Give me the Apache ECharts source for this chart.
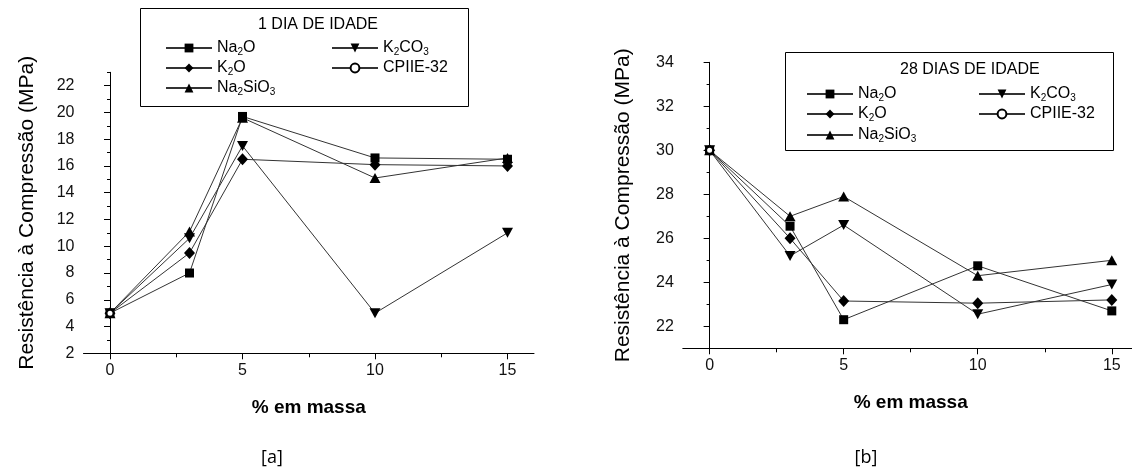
<!DOCTYPE html>
<html><head><meta charset="utf-8">
<script src="https://cdn.jsdelivr.net/npm/echarts@6/dist/echarts.min.js"></script>
<style>html,body{margin:0;padding:0;background:#fff}#c{width:1132px;height:473px}</style>
</head><body><div id="c"></div>
<script>
// ---- data ----
const massPct = [0, 3, 5, 10, 15];
const xTickValues = [0, 5, 10, 15];
const xMinorValues = [2.5, 7.5, 12.5];
const yTicksA = [2, 4, 6, 8, 10, 12, 14, 16, 18, 20, 22];
const yTicksB = [22, 24, 26, 28, 30, 32, 34];
const seriesNames = ['Na2O', 'K2CO3', 'K2O', 'CPIIE-32', 'Na2SiO3'];
const titleA = '1 DIA DE IDADE';
const titleB = '28 DIAS DE IDADE';
const yTitle = 'Resistência à Compressão (MPa)';
const xTitle = '% em massa';
// 1 dia de idade
const d1_Na2O    = [5, 8.0, 19.7, 16.6, 16.5];
const d1_K2CO3   = [5, 10.6, 17.5, 5.0, 11.0];
const d1_K2O     = [5, 9.5, 16.5, 16.1, 16.0];
const d1_Na2SiO3 = [5, 11.1, 19.6, 15.1, 16.6];
const d1_CPIIE   = [5];
// 28 dias de idade
const d28_Na2O    = [30, 26.55, 22.3, 24.75, 22.7];
const d28_K2CO3   = [30, 25.2, 26.6, 22.55, 23.9];
const d28_K2O     = [30, 26.0, 23.15, 23.05, 23.2];
const d28_Na2SiO3 = [30, 27.0, 27.9, 24.3, 25.0];
const d28_CPIIE   = [30];

// ---- styling ----
const FONT = '"Liberation Sans", Arial, sans-serif';
const symbols = {
  'Na2O': {symbol: 'rect', symbolSize: 9},
  'K2CO3': {symbol: 'path://M0,0L10,0L5,9Z', symbolSize: [11, 10]},
  'K2O': {symbol: 'diamond', symbolSize: [11, 12]},
  'Na2SiO3': {symbol: 'triangle', symbolSize: [11, 10]},
  'CPIIE-32': {symbol: 'emptyCircle', symbolSize: 7}
};
const rich = {s: {fontSize: 10, fontFamily: FONT, color: '#000', verticalAlign: 'bottom'}};
const fmtMap = {
  'Na2O': 'Na{s|2}O', 'K2CO3': 'K{s|2}CO{s|3}', 'K2O': 'K{s|2}O',
  'Na2SiO3': 'Na{s|2}SiO{s|3}', 'CPIIE-32': 'CPIIE-32'
};
function mkSeries(name, vals, ax) {
  const s = symbols[name];
  const empty = name === 'CPIIE-32';
  return {
    type: 'line', name: name, xAxisIndex: ax, yAxisIndex: ax,
    data: vals.map((v, i) => [massPct[i], v]),
    symbol: s.symbol, symbolSize: s.symbolSize, showAllSymbol: true,
    lineStyle: {color: '#333', width: 1},
    itemStyle: empty ? {color: '#000', borderWidth: 1.4} : {color: '#000'},
    z: empty ? 5 : 3,
    animation: false, emphasis: {disabled: true}
  };
}
function mkLegend(name, left, cy) {
  return {
    data: [name], left: left, top: cy - 9, padding: 0, itemWidth: 46, itemHeight: 11,
    selectedMode: false, formatter: n => fmtMap[n],
    textStyle: {fontFamily: FONT, fontSize: 16, color: '#000', lineHeight: 18, rich: rich}
  };
}
function xMain(grid) {
  return {type: 'value', gridIndex: grid, min: -1, max: 16, position: 'bottom',
    axisLine: {show: true, lineStyle: {color: '#000', width: 1}},
    axisTick: {show: true, length: 6, customValues: xTickValues, lineStyle: {color: '#000'}},
    axisLabel: {customValues: xTickValues, margin: 9, fontFamily: FONT, fontSize: 16, color: '#111'},
    splitLine: {show: false},
    name: xTitle, nameLocation: 'middle', nameGap: 45,
    nameTextStyle: {fontFamily: FONT, fontSize: 19, fontWeight: 'bold', color: '#000'}};
}
function xMinor(grid) {
  return {type: 'value', gridIndex: grid, min: -1, max: 16, position: 'bottom',
    axisLine: {show: false}, axisLabel: {show: false}, splitLine: {show: false},
    axisTick: {show: true, length: 4, customValues: xMinorValues, lineStyle: {color: '#000'}}};
}
function yMain(grid, min, max, ticks, gap) {
  return {type: 'value', gridIndex: grid, min: min, max: max, position: 'left',
    axisLine: {show: true, lineStyle: {color: '#000', width: 1}},
    axisTick: {show: true, length: 6, customValues: ticks, lineStyle: {color: '#000'}},
    axisLabel: {customValues: ticks, margin: 9, fontFamily: FONT, fontSize: 16, color: '#111'},
    splitLine: {show: false},
    name: yTitle, nameLocation: 'middle', nameGap: gap, nameRotate: 90,
    nameTextStyle: {fontFamily: FONT, fontSize: 21, color: '#000'}};
}
function yMinor(grid, min, max) {
  return {type: 'value', gridIndex: grid, min: min, max: max, interval: 1, position: 'left',
    axisLine: {show: false}, axisLabel: {show: false}, splitLine: {show: false},
    axisTick: {show: true, length: 3, lineStyle: {color: '#000'}}};
}

const chart = echarts.init(document.getElementById('c'), null, {renderer: 'canvas'});
chart.setOption({
  backgroundColor: '#fff',
  animation: false,
  grid: [
    {left: 83.5, top: 72.3, right: 1132 - 534, bottom: 473 - 353.3, outerBoundsMode: 'none'},
    {left: 682.8, top: 62.3, right: 1132 - 1138.6, bottom: 473 - 348.3, outerBoundsMode: 'none'}
  ],
  xAxis: [xMain(0), xMinor(0), xMain(1), xMinor(1)],
  yAxis: [yMain(0, 2, 23, yTicksA, 46), yMinor(0, 2, 23), yMain(1, 21, 34, yTicksB, 49), yMinor(1, 21, 34)],
  legend: [
    mkLegend('Na2O', 165, 48), mkLegend('K2O', 165, 68), mkLegend('Na2SiO3', 165, 88),
    mkLegend('K2CO3', 331, 48), mkLegend('CPIIE-32', 331, 68),
    mkLegend('Na2O', 806, 94), mkLegend('K2O', 806, 114), mkLegend('Na2SiO3', 806, 135),
    mkLegend('K2CO3', 978, 94), mkLegend('CPIIE-32', 978, 114)
  ],
  graphic: [
    {type: 'rect', shape: {x: 140.5, y: 8.5, width: 328, height: 98}, style: {fill: '#fff', stroke: '#000', lineWidth: 1}, z: 0},
    {type: 'rect', shape: {x: 785.5, y: 52.5, width: 328, height: 98}, style: {fill: '#fff', stroke: '#000', lineWidth: 1}, z: 0},
    {type: 'text', x: 258, y: 25, style: {text: titleA, font: '16px ' + FONT, fill: '#000', textVerticalAlign: 'middle'}, z: 10},
    {type: 'text', x: 900, y: 70, style: {text: titleB, font: '16px ' + FONT, fill: '#000', textVerticalAlign: 'middle'}, z: 10},
    {type: 'text', x: 272, y: 458, style: {text: '[a]', font: '18px "Open Sans", Lato, sans-serif', fill: '#000', textAlign: 'center', textVerticalAlign: 'middle'}},
    {type: 'text', x: 866, y: 458, style: {text: '[b]', font: '18px "Open Sans", Lato, sans-serif', fill: '#000', textAlign: 'center', textVerticalAlign: 'middle'}}
  ],
  series: [
    mkSeries('Na2O', d1_Na2O, 0), mkSeries('K2CO3', d1_K2CO3, 0), mkSeries('K2O', d1_K2O, 0),
    mkSeries('Na2SiO3', d1_Na2SiO3, 0), mkSeries('CPIIE-32', d1_CPIIE, 0),
    mkSeries('Na2O', d28_Na2O, 2), mkSeries('K2CO3', d28_K2CO3, 2), mkSeries('K2O', d28_K2O, 2),
    mkSeries('Na2SiO3', d28_Na2SiO3, 2), mkSeries('CPIIE-32', d28_CPIIE, 2)
  ]
});
</script></body></html>
